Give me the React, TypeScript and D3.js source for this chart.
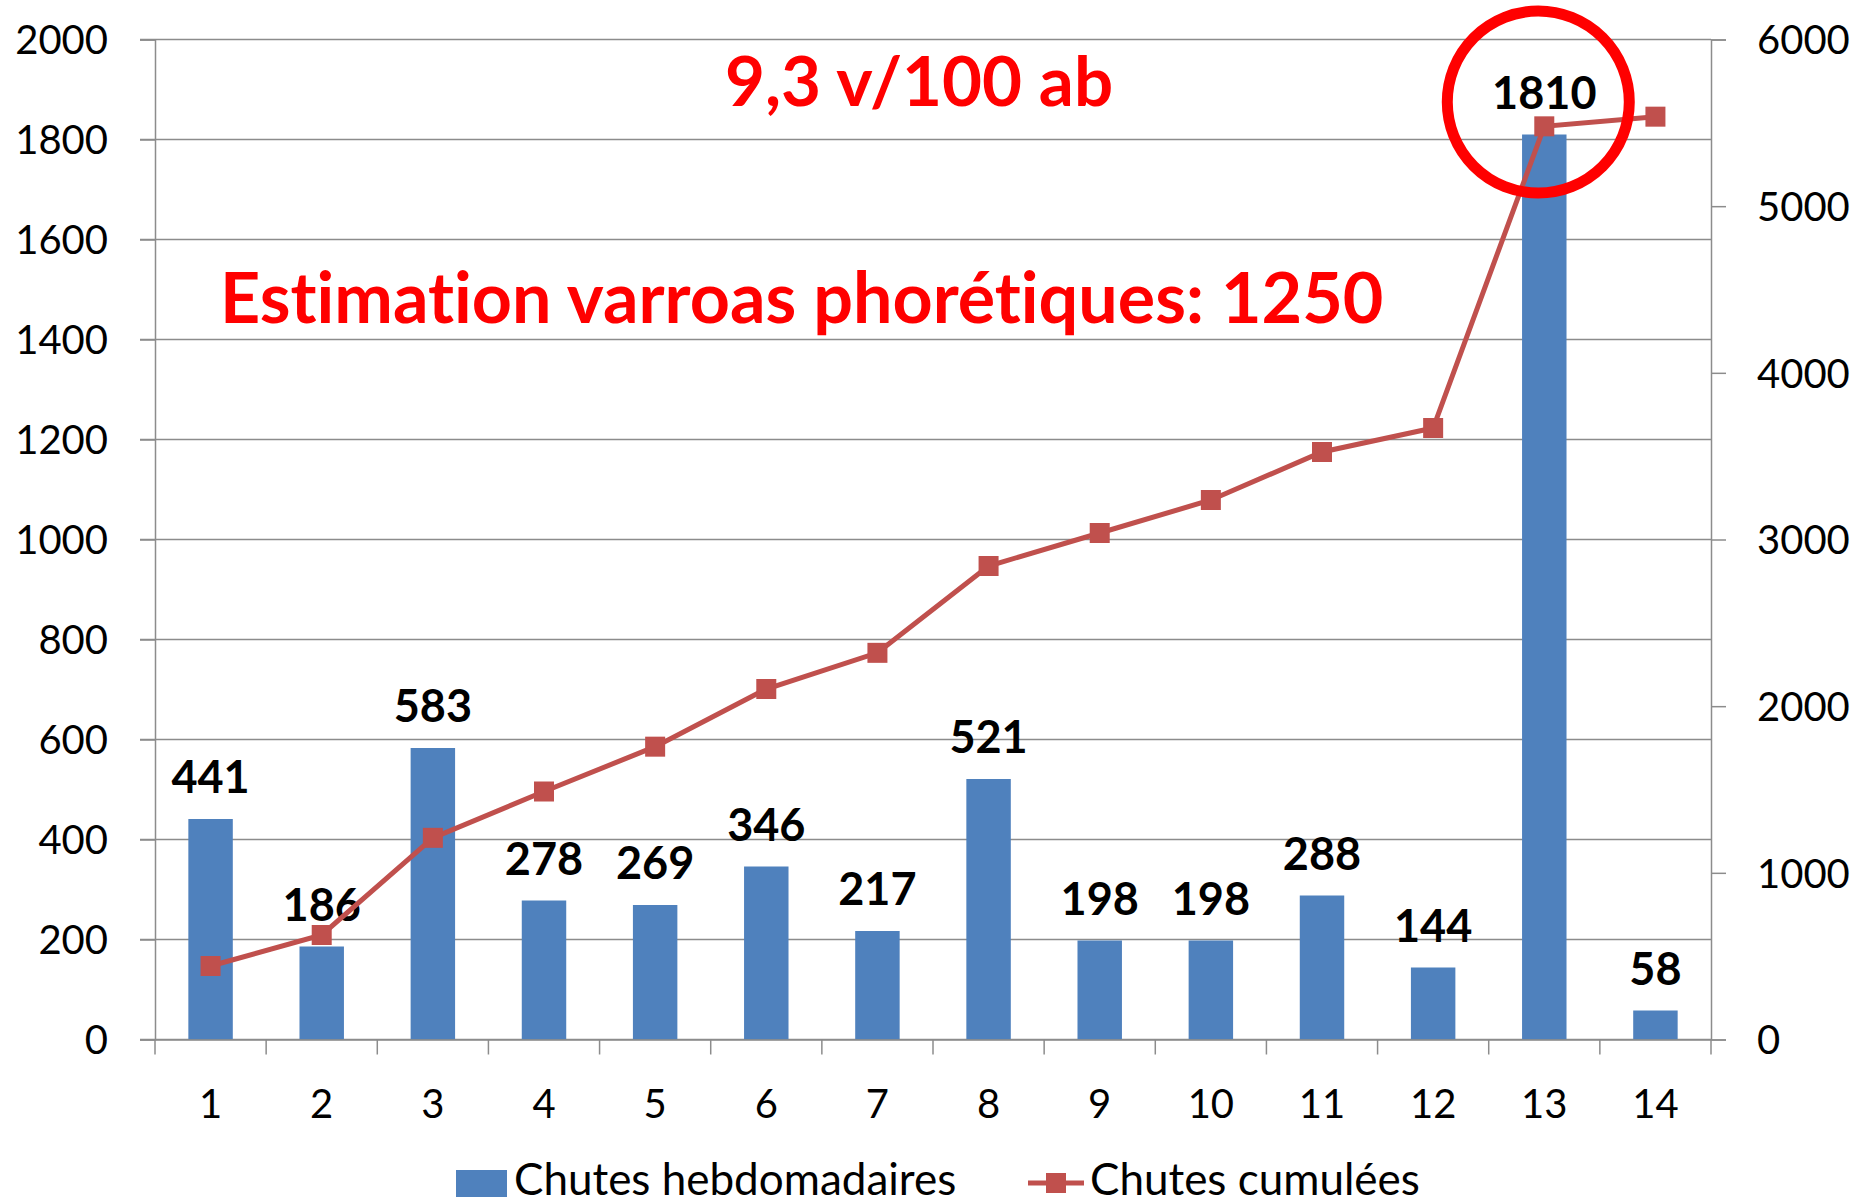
import React, { useRef, useEffect } from 'react';
import * as d3 from 'd3';

// Data
const weeks: string[] = ['1', '2', '3', '4', '5', '6', '7', '8', '9', '10', '11', '12', '13', '14'];
const weeklyFalls: number[] = [441, 186, 583, 278, 269, 346, 217, 521, 198, 198, 288, 144, 1810, 58];
const cumulativeFalls: number[] = [441, 627, 1210, 1488, 1757, 2103, 2320, 2841, 3039, 3237, 3525, 3669, 5479, 5537];
const leftTicks: number[] = [0, 200, 400, 600, 800, 1000, 1200, 1400, 1600, 1800, 2000];
const rightTicks: number[] = [0, 1000, 2000, 3000, 4000, 5000, 6000];

const seriesNames = ['Chutes hebdomadaires', 'Chutes cumulées'];
const annotationTop = '9,3 v/100 ab';
const annotationMain = 'Estimation varroas phorétiques: 1250';

const W = 1868;
const H = 1203;
const margin = { top: 39.5, right: 157, bottom: 163.5, left: 155 };

const BLUE = '#4F81BD';
const RED = '#C0504D';
const GRID = '#8c8c8c';
const FONT = 'Lato, "Open Sans", sans-serif';

const App = () => {
  const svgRef = useRef<SVGSVGElement>(null);

  useEffect(() => {
    document.body.style.margin = '0';
    const svg = d3.select(svgRef.current);
    svg.selectAll('*').remove();
    svg.style('font-variant-ligatures', 'none');

    const x0 = margin.left;
    const x1 = W - margin.right;
    const y0 = H - margin.bottom;
    const y1 = margin.top;

    const x = d3.scaleBand().domain(weeks).range([x0, x1]).padding(0);
    const yLeft = d3.scaleLinear().domain([0, 2000]).range([y0, y1]);
    const yRight = d3.scaleLinear().domain([0, 6000]).range([y0, y1]);
    const cx = (w: string) => (x(w) as number) + x.bandwidth() / 2;
    const barW = x.bandwidth() * 0.4;

    // Horizontal gridlines (extend to left tick)
    svg
      .append('g')
      .selectAll('line')
      .data(leftTicks)
      .join('line')
      .attr('x1', x0 - 15)
      .attr('x2', x1)
      .attr('y1', (d) => yLeft(d))
      .attr('y2', (d) => yLeft(d))
      .attr('stroke', GRID)
      .attr('stroke-width', 1.5);

    // Left axis
    const left = svg
      .append('g')
      .attr('transform', `translate(${x0},0)`)
      .call(
        d3.axisLeft(yLeft).tickValues(leftTicks).tickFormat(d3.format('d')).tickSize(15).tickPadding(32)
      );
    left.select('.domain').attr('stroke', GRID).attr('stroke-width', 1.5);
    left.selectAll('.tick line').attr('stroke', GRID).attr('stroke-width', 1.5);
    left
      .selectAll('.tick text')
      .attr('font-family', FONT)
      .attr('font-size', 40)
      .attr('fill', '#000')
      .attr('dy', '0.36em');

    // Right axis
    const right = svg
      .append('g')
      .attr('transform', `translate(${x1},0)`)
      .call(
        d3.axisRight(yRight).tickValues(rightTicks).tickFormat(d3.format('d')).tickSize(15).tickPadding(31)
      );
    right.select('.domain').attr('stroke', GRID).attr('stroke-width', 1.5);
    right.selectAll('.tick line').attr('stroke', GRID).attr('stroke-width', 1.5);
    right
      .selectAll('.tick text')
      .attr('font-family', FONT)
      .attr('font-size', 40)
      .attr('fill', '#000')
      .attr('dy', '0.36em');

    // Bars
    svg
      .append('g')
      .selectAll('rect')
      .data(weeklyFalls)
      .join('rect')
      .attr('x', (d, i) => cx(weeks[i]) - barW / 2)
      .attr('y', (d) => yLeft(d))
      .attr('width', barW)
      .attr('height', (d) => y0 - yLeft(d))
      .attr('fill', BLUE);

    // Bottom axis
    const bottom = svg
      .append('g')
      .attr('transform', `translate(0,${y0})`)
      .call(d3.axisBottom(x).tickSize(0).tickPadding(50));
    bottom.select('.domain').attr('stroke', GRID).attr('stroke-width', 1.5);
    bottom
      .selectAll('.tick text')
      .attr('font-family', FONT)
      .attr('font-size', 40)
      .attr('fill', '#000');
    // category separator ticks
    svg
      .append('g')
      .selectAll('line')
      .data([...weeks.map((w) => x(w) as number), x1])
      .join('line')
      .attr('x1', (d) => d)
      .attr('x2', (d) => d)
      .attr('y1', y0)
      .attr('y2', y0 + 15)
      .attr('stroke', GRID)
      .attr('stroke-width', 1.5);

    // Bar value labels
    svg
      .append('g')
      .selectAll('text')
      .data(weeklyFalls)
      .join('text')
      .attr('x', (d, i) => cx(weeks[i]))
      .attr('y', (d) => yLeft(d) - 26)
      .attr('text-anchor', 'middle')
      .attr('font-family', FONT)
      .attr('font-weight', 'bold')
      .attr('font-size', 45)
      .attr('fill', '#000')
      .text((d) => d);

    // Cumulative line
    const line = d3
      .line<number>()
      .x((d, i) => cx(weeks[i]))
      .y((d) => yRight(d));
    svg
      .append('path')
      .datum(cumulativeFalls)
      .attr('fill', 'none')
      .attr('stroke', RED)
      .attr('stroke-width', 5)
      .attr('d', line);
    svg
      .append('g')
      .selectAll('rect')
      .data(cumulativeFalls)
      .join('rect')
      .attr('x', (d, i) => cx(weeks[i]) - 10)
      .attr('y', (d) => yRight(d) - 10)
      .attr('width', 20)
      .attr('height', 20)
      .attr('fill', RED);

    // Annotations
    svg
      .append('text')
      .attr('x', 919)
      .attr('y', 106)
      .attr('text-anchor', 'middle')
      .attr('font-family', FONT)
      .attr('font-weight', 'bold')
      .attr('font-size', 69)
      .attr('fill', '#FF0000')
      .text(annotationTop);
    svg
      .append('text')
      .attr('x', 220)
      .attr('y', 323)
      .attr('text-anchor', 'start')
      .attr('font-family', FONT)
      .attr('font-weight', 'bold')
      .attr('font-size', 70)
      .attr('fill', '#FF0000')
      .text(annotationMain);

    // Red circle around week 13 peak
    svg
      .append('circle')
      .attr('cx', cx('13') - 6)
      .attr('cy', 102)
      .attr('r', 91)
      .attr('fill', 'none')
      .attr('stroke', '#FF0000')
      .attr('stroke-width', 11);

    // Legend
    const legend = svg.append('g');
    legend
      .append('rect')
      .attr('x', 456)
      .attr('y', 1170)
      .attr('width', 51)
      .attr('height', 27)
      .attr('fill', BLUE);
    legend
      .append('text')
      .attr('x', 514)
      .attr('y', 1195)
      .attr('font-family', FONT)
      .attr('font-size', 44)
      .attr('fill', '#000')
      .text(seriesNames[0]);
    legend
      .append('line')
      .attr('x1', 1028)
      .attr('x2', 1084)
      .attr('y1', 1183)
      .attr('y2', 1183)
      .attr('stroke', RED)
      .attr('stroke-width', 5);
    legend
      .append('rect')
      .attr('x', 1046)
      .attr('y', 1173)
      .attr('width', 20)
      .attr('height', 20)
      .attr('fill', RED);
    legend
      .append('text')
      .attr('x', 1090)
      .attr('y', 1195)
      .attr('font-family', FONT)
      .attr('font-size', 44)
      .attr('fill', '#000')
      .text(seriesNames[1]);
  }, []);

  return <svg ref={svgRef} width={W} height={H} style={{ display: 'block', background: '#fff' }} />;
};

export default App;
